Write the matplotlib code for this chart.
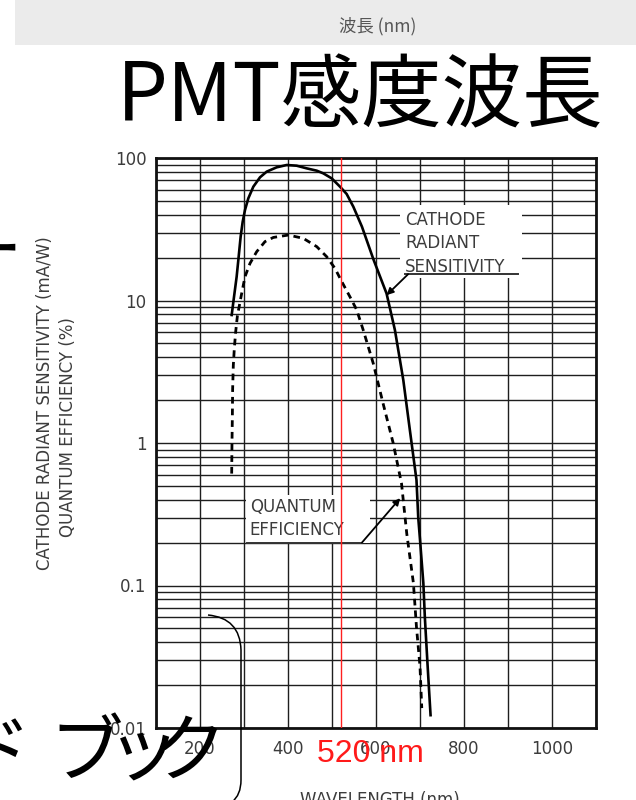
#!/usr/bin/env python3
"""
PMT 感度波長 スライド: cathode radiant sensitivity / quantum efficiency vs wavelength
"""

import matplotlib.pyplot as plt
from matplotlib.ticker import FixedLocator, MultipleLocator, NullFormatter
from matplotlib.patches import Rectangle, PathPatch
from matplotlib.path import Path
from matplotlib.transforms import Affine2D

# ================= データ =================
# 陰極放射感度 (mA/W) - 実線
cathode_nm = [272.0, 277.3, 283.3, 287.1, 292.4, 297.0, 302.3, 309.8, 321.2, 336.4,
              351.5, 374.2, 397.0, 419.7, 442.4, 465.2, 480.3, 499.2, 518.2, 533.3,
              548.5, 568.0, 594.0, 624.0, 643.0, 662.0, 677.0, 692.0, 696.0, 700.0,
              707.6, 711.0, 717.4, 724.0]
cathode_val = [7.91, 10.6, 14.7, 19.2, 28.1, 35.7, 43.2, 52.1, 62.9, 73.2,
               80.2, 86.0, 89.3, 88.3, 84.6, 81.5, 78.0, 72.0, 62.9, 55.9,
               45.5, 33.0, 19.5, 11.2, 6.2, 2.77, 1.23, 0.55, 0.30, 0.21,
               0.104, 0.06, 0.027, 0.0123]

# 量子効率 (%) - 破線
qe_nm = [272.0, 272.7, 273.5, 274.2, 275.7, 278.0, 281.0, 285.0, 294.7, 302.3,
         313.6, 328.8, 347.7, 366.7, 400.8, 434.8, 465.2, 487.9, 506.8, 522.0,
         540.9, 556.1, 571.0, 594.0, 616.0, 639.0, 658.0, 670.0, 685.0, 692.0,
         700.0, 704.0]
qe_val = [0.61, 1.0, 1.5, 2.4, 3.5, 4.6, 6.0, 7.8, 11.2, 14.7,
          18.2, 22.0, 25.9, 27.7, 28.8, 27.3, 23.9, 20.3, 16.8, 13.6,
          10.6, 8.6, 6.2, 3.6, 1.9, 1.0, 0.52, 0.23, 0.104, 0.051,
          0.027, 0.0138]

marker_nm = 520
x_ticks = [200, 400, 600, 800, 1000]
x_tick_labels = ['200', '400', '600', '800', '1000']
y_ticks = [100, 10, 1, 0.1, 0.01]
y_tick_labels = ['100', '10', '1', '0.1', '0.01']

cathode_label = ['CATHODE', 'RADIANT', 'SENSITIVITY']
qe_label = ['QUANTUM', 'EFFICIENCY']
side_chars = ['ド', 'ブ', 'ッ', 'ク']   # 左下のはみ出した文字列「…ドブック」

W, H = 636, 800
CJK = ['Noto Sans CJK JP', 'DejaVu Sans']
TXT = '#3c3c3c'
GRID = '#1e1e1e'


def px(x, y):
    """pixel (左上原点) -> figure fraction"""
    return x / W, 1 - y / H


def main():
    fig = plt.figure(figsize=(W / 100, H / 100), dpi=100)
    fig.patch.set_facecolor('white')

    # ---------- スライドの装飾 ----------
    fig.patches.append(Rectangle(px(15, 45), (W - 15) / W, 45 / H,
                                 transform=fig.transFigure, facecolor='#ebebeb',
                                 edgecolor='none', zorder=0))
    fig.text(*px(378, 26), '波長 (nm)', family=CJK, fontsize=12.5, color='#555555',
             ha='center', va='center')
    fig.text(*px(360, 98), 'PMT感度波長', family=CJK, fontsize=58, color='black',
             ha='center', va='center')
    fig.text(*px(22, 254), 'ー', family=CJK, fontsize=50, color='black',
             ha='right', va='center')

    # ---------- グラフ ----------
    ax = fig.add_axes([156 / W, 1 - 728 / H, 440 / W, 570 / H])
    ax.set_yscale('log')
    ax.set_xlim(100, 1100)
    ax.set_ylim(0.01, 100)

    ax.xaxis.set_major_locator(FixedLocator(x_ticks))
    ax.set_xticklabels(x_tick_labels)
    ax.xaxis.set_minor_locator(MultipleLocator(100))
    ax.yaxis.set_major_locator(FixedLocator(y_ticks))
    ax.set_yticklabels(y_tick_labels)
    ax.yaxis.set_minor_formatter(NullFormatter())
    ax.tick_params(which='both', length=0, labelsize=12, labelcolor=TXT)
    ax.tick_params(axis='x', pad=9)
    ax.tick_params(axis='y', pad=7)

    ax.grid(which='both', color=GRID, linewidth=1.0)
    ax.set_axisbelow(True)
    for s in ax.spines.values():
        s.set_linewidth(2.0)
        s.set_color('#111111')

    ax.plot(cathode_nm, cathode_val, color='black', linewidth=1.9, zorder=3)
    ax.plot(qe_nm, qe_val, color='black', linewidth=2.0, zorder=3,
            linestyle=(0, (2.4, 1.8)))

    # ラベル枠 (白抜き)
    ax.add_patch(Rectangle((655, 14.4), 932 - 655, 46.8 - 14.4, facecolor='white',
                           edgecolor='none', zorder=2.5))
    ax.add_patch(Rectangle((304, 0.2), 586 - 304, 0.434 - 0.2, facecolor='white',
                           edgecolor='none', zorder=2.5))

    for txt, yv in zip(cathode_label, [36.7, 25.3, 17.2]):
        ax.text(666, yv, txt, fontsize=12, color=TXT, ha='left', va='center', zorder=4)
    for txt, yv in zip(qe_label, [0.356, 0.245]):
        ax.text(313, yv, txt, fontsize=12, color=TXT, ha='left', va='center', zorder=4)

    ax.plot([666, 923], [15.4, 15.4], color='#333333', linewidth=1.4, zorder=4)
    ax.plot([307, 568], [0.2, 0.2], color='#333333', linewidth=1.4, zorder=4)
    ax.annotate('', xy=(624, 10.9), xytext=(673, 15.3),
                arrowprops=dict(arrowstyle='-|>', color='black', lw=1.3,
                                mutation_scale=10, shrinkA=0, shrinkB=0), zorder=4)
    ax.annotate('', xy=(655, 0.41), xytext=(568, 0.2),
                arrowprops=dict(arrowstyle='-|>', color='black', lw=1.3,
                                mutation_scale=10, shrinkA=0, shrinkB=0), zorder=4)

    # 520 nm
    ax.axvline(marker_nm, color='#ff2020', linewidth=1.0, zorder=5)

    # 軸ラベル
    fig.text(*px(45, 403), 'CATHODE RADIANT SENSITIVITY (mA/W)', fontsize=12,
             color=TXT, rotation=90, ha='center', va='center')
    fig.text(*px(68, 427), 'QUANTUM EFFICIENCY (%)', fontsize=12,
             color=TXT, rotation=90, ha='center', va='center')
    fig.text(*px(380, 791), 'WAVELENGTH (nm)', fontsize=12, color=TXT,
             ha='center', va='top')

    fig.text(*px(370, 754), f'{marker_nm} nm', family='Liberation Sans', fontsize=23,
             color='#ff1a1a', ha='center', va='center')

    # 左下の文字 (プロポーショナル詰め) と括弧
    for ch, cx in zip(side_chars, [-6, 86, 144, 190]):
        fig.text(*px(cx, 754), ch, family=CJK, fontsize=53, color='black',
                 ha='center', va='center')
    verts = [(208, 615), (240, 618), (241, 650), (241, 780), (241, 795), (232, 802)]
    codes = [Path.MOVETO, Path.CURVE3, Path.CURVE3, Path.LINETO, Path.CURVE3, Path.CURVE3]
    tr = Affine2D().scale(1 / W, -1 / H).translate(0, 1) + fig.transFigure
    fig.patches.append(PathPatch(Path(verts, codes), transform=tr, facecolor='none',
                                 edgecolor='black', linewidth=1.1, zorder=5))

    fig.savefig('out.png', dpi=100)


if __name__ == '__main__':
    main()
